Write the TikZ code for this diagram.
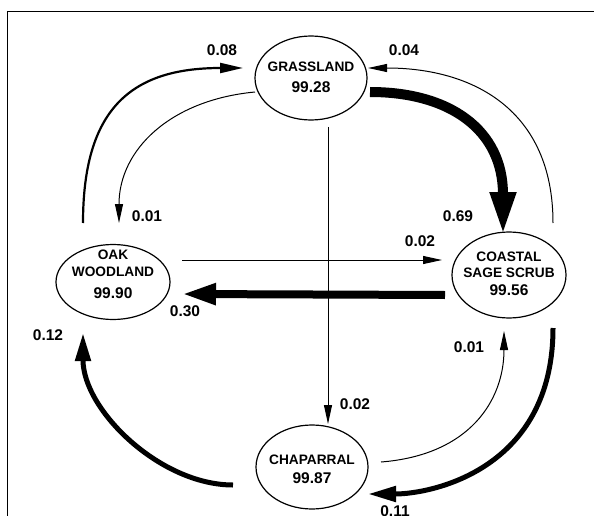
\documentclass[tikz,border=0pt]{standalone}
\usepackage{fontspec}
\setmainfont{Liberation Sans}
\usetikzlibrary{arrows.meta,shapes.geometric,calc}
\begin{document}
\begin{tikzpicture}[x=1pt,y=-1pt,
  eln/.style={draw, ellipse, line width=1.2pt, inner sep=0pt},
  wtxt/.style={font=\fontsize{13.7}{15}\selectfont\bfseries, inner sep=0pt},
  ntxt/.style={font=\fontsize{15.5}{17}\selectfont\bfseries, inner sep=0pt},
  thinarr/.style={line width=1pt, -{Triangle[length=19pt,width=8pt]}},
  medarr/.style={line width=2.2pt, -{Triangle[length=23pt,width=10pt]}},
  boldarr/.style={line width=5pt, -{Triangle[length=28pt,width=15pt]}},
  heavyarr/.style={line width=8pt, -{Triangle[length=34pt,width=20pt]}},
  hugearr/.style={line width=10pt, -{Triangle[length=43pt,width=24pt]}}
]
\useasboundingbox (0,0) rectangle (594,516);
\draw[line width=1.6pt] (7.5,516) -- (7.5,11.5) -- (594,11.5);

% ellipses
\node[eln, minimum width=112pt, minimum height=84pt] (g) at (311,78) {};
\node[eln, minimum width=114pt, minimum height=75pt] (o) at (113,282) {};
\node[eln, minimum width=114pt, minimum height=86pt] (c) at (509,275) {};
\node[eln, minimum width=112pt, minimum height=84pt] (h) at (312,467) {};

% texts
\node[wtxt] (gt1) at (311,67) {GRASSLAND};
\node[ntxt] (gt2) at (311,87) {99.28};
\node[wtxt] (ot1) at (113,255) {OAK};
\node[wtxt] (ot2) at (113,272) {WOODLAND};
\node[ntxt] (ot3) at (113,293) {99.90};
\node[wtxt] (ct1) at (509,257) {COASTAL};
\node[wtxt] (ct2) at (509,273) {SAGE SCRUB};
\node[ntxt] (ct3) at (509,290) {99.56};
\node[wtxt] (ht1) at (312,460) {CHAPARRAL};
\node[ntxt] (ht2) at (312,478) {99.87};

% connectors
\draw[medarr] ($(o)+(-30,-59)$) .. controls +(0,-113) and +(-113,0) .. ($(g)+(-68,-10)$);
\draw[thinarr] ($(g)+(-56,14)$) .. controls +(-85,8) and +(0,-73) .. ($(o)+(6,-59)$);
\draw[thinarr] ($(c)+(44,-52)$) .. controls +(0,-113) and +(105,0) .. ($(g)+(57,-10)$);
\draw[hugearr] ($(g)+(59,14)$) .. controls +(80,0) and +(0,-105) .. ($(c)+(-6,-40)$);
\draw[thinarr] ($(g)+(17,49)$) -- ($(h)+(16,-43)$);
\draw[thinarr] ($(o)+(69,-22)$) -- ($(c)+(-67,-15)$);
\draw[heavyarr] ($(c)+(-64,20)$) -- ($(o)+(69,12)$);
\draw[boldarr] ($(h)+(-79,18)$) .. controls +(-73,0) and +(0,77) .. ($(o)+(-30,51)$);
\draw[thinarr] ($(h)+(69,-5)$) .. controls +(89,-7) and +(0,69) .. ($(c)+(-5,56)$);
\draw[boldarr] ($(c)+(44,53)$) .. controls +(0,142) and +(63,0) .. ($(h)+(56,27)$);

% labels
\node[ntxt] (l08) at (222,50) {0.08};
\node[ntxt] (l04) at (404,50) {0.04};
\node[ntxt] (l01a) at (147,216) {0.01};
\node[ntxt] (l69) at (458,216) {0.69};
\node[ntxt] (l02a) at (420,241) {0.02};
\node[ntxt] (l30) at (185,311) {0.30};
\node[ntxt] (l12) at (48,335) {0.12};
\node[ntxt] (l01b) at (469,347) {0.01};
\node[ntxt] (l02b) at (355,404) {0.02};
\node[ntxt] (l11) at (395,511) {0.11};
\end{tikzpicture}
\end{document}
